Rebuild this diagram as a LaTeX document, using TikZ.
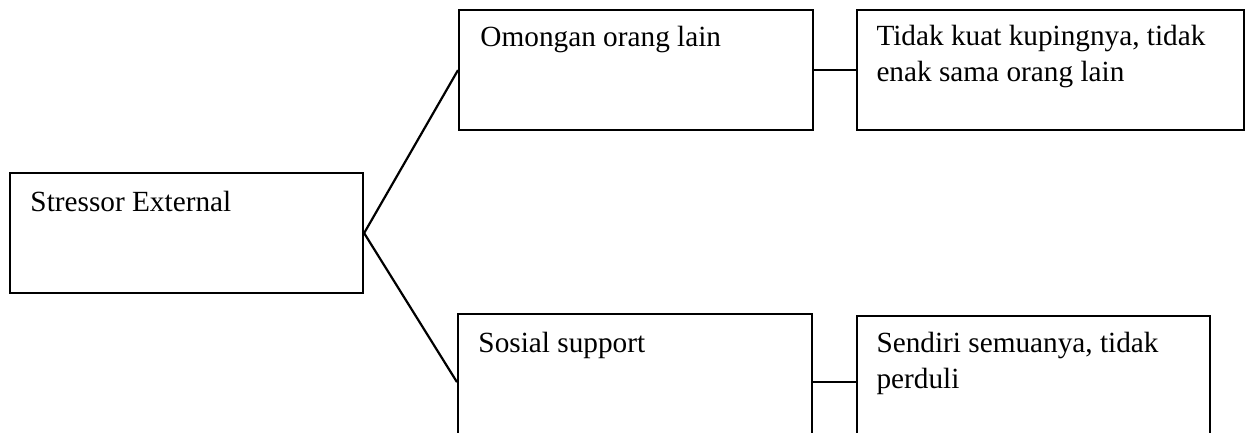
\documentclass[tikz,border=0pt]{standalone}
\usepackage{fontspec}
\setmainfont{Liberation Serif}
\usetikzlibrary{positioning,calc}

\begin{document}
\begin{tikzpicture}[
  x=0.41pt,y=-0.41pt,
  every node/.style={font=\fontsize{12}{14.4}\selectfont},
  box/.style={draw,line width=0.9pt,inner sep=0pt,anchor=north west,minimum height=49.2pt},
  lbl/.style={anchor=base west,inner sep=0pt,align=left},
  conn/.style={line width=0.9pt}
]
\clip (0,0) rectangle (1248,432);

% boxes
\node[box,minimum width=144.7pt] (se) at (9,172) {};
\node[box,minimum width=145.1pt] (om) at (458,9) {};
\node[box,minimum width=158.7pt] (tid) at (856,9) {};
\node[box,minimum width=145.1pt,minimum height=55.8pt] (sos) at (457,313) {};
\node[box,minimum width=144.7pt,minimum height=55.8pt] (sen) at (856,315) {};

% texts (two-line ones sit on their last baseline)
\node[lbl] (seT) at ($(se.north west)+(21,39)$) {Stressor External};
\node[lbl] (omT) at ($(om.north west)+(22,38)$) {Omongan orang lain};
\node[lbl] (tidT) at ($(tid.north west)+(20,72)$) {Tidak kuat kupingnya, tidak\\enak sama orang lain};
\node[lbl] (sosT) at ($(sos.north west)+(21,39)$) {Sosial support};
\node[lbl] (senT) at ($(sen.north west)+(20,73)$) {Sendiri semuanya, tidak\\perduli};

% connectors
\draw[conn] (se.east) -- (om.west);
\draw[conn] (se.east) -- (sos.west);
\draw[conn] (om.east) -- (om.east -| tid.west);
\draw[conn] (sos.east) -- (sos.east -| sen.west);
\end{tikzpicture}
\end{document}
